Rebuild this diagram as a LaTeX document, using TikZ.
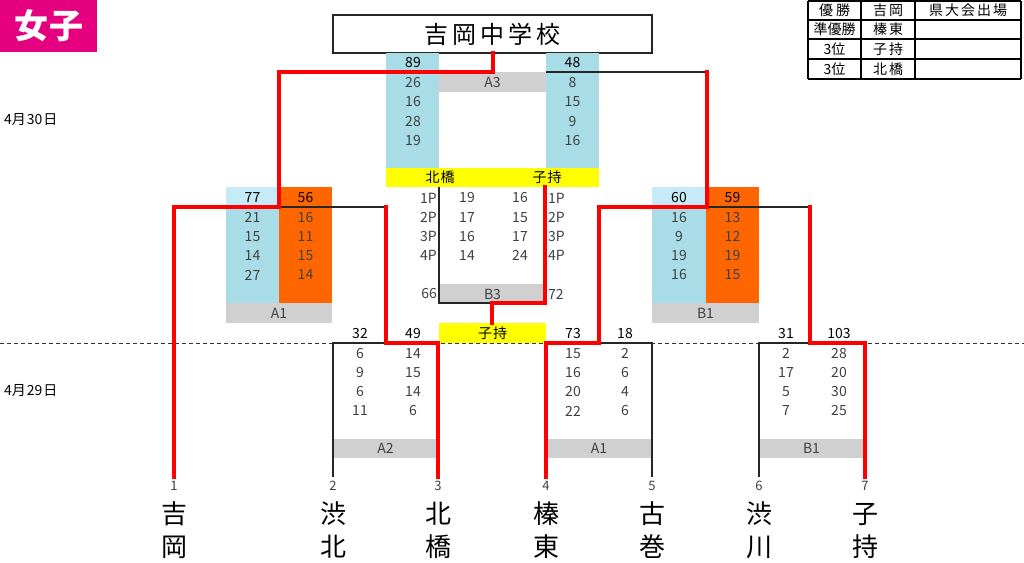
\documentclass[tikz,border=0pt]{standalone}
\usepackage{fontspec}
\setmainfont{Noto Sans CJK JP}
\definecolor{lblue}{HTML}{A8DDE8}
\definecolor{tblue}{HTML}{C5EBF9}
\definecolor{orng}{HTML}{FF6600}
\definecolor{gry}{HTML}{D0D0D0}
\definecolor{ylw}{HTML}{FFFF00}
\definecolor{rd}{HTML}{FF0000}
\definecolor{mag}{HTML}{E4007F}
\definecolor{numgray}{HTML}{404040}
\tikzset{
  num/.style={font=\fontsize{14}{14}\selectfont, text=numgray, inner sep=0pt},
  topnum/.style={num, text=black},
  team/.style={font=\fontsize{26}{26}\selectfont, text=black, inner sep=0pt},
  tno/.style={font=\fontsize{13}{13}\selectfont, text=numgray, inner sep=0pt},
  tbl/.style={font=\fontsize{14}{14}\selectfont, text=black, inner sep=0pt},
  win/.style={draw=rd, line width=4.5pt, line join=miter, line cap=rect},
  lose/.style={draw=black!85, line width=1.2pt},
}
\begin{document}
\begin{tikzpicture}[x=1pt,y=-1pt]
\useasboundingbox (0,0) rectangle (1024,562);
\fill[white] (0,0) rectangle (1024,562);
% title badge
\fill[mag] (0,0) rectangle (97,52);
\node[font=\fontsize{34}{34}\selectfont\bfseries, text=white, inner sep=0pt] (girls) at (49,26) {女\hspace{2pt}子};
% dates
\node[font=\fontsize{14}{14}\selectfont, anchor=west, inner sep=0pt] (d30) at (4,120) {4月\hspace{1pt}30\hspace{1pt}日};
\node[font=\fontsize{14}{14}\selectfont, anchor=west, inner sep=0pt] (d29) at (4,391) {4月\hspace{1pt}29\hspace{1pt}日};
% title box
\node[draw=black!85, line width=1.2pt, minimum width=319pt, minimum height=38pt, inner sep=0pt, font=\fontsize{24}{24}\selectfont] (title) at (492.5,34) {吉\hspace{4pt}岡\hspace{4pt}中\hspace{4pt}学\hspace{4pt}校};
% result table
\foreach \y in {1,20,39,59,79} \draw[line width=1.3pt] (808,\y) -- (1021,\y);
\foreach \x in {808,861,915,1021} \draw[line width=1.3pt] (\x,1) -- (\x,79);
\node[tbl] (t11) at (834.5,10.5) {優\hspace{3pt}勝};
\node[tbl] (t12) at (888,10.5) {吉\hspace{2pt}岡};
\node[tbl] (t13) at (968,10.5) {県\hspace{2pt}大\hspace{2pt}会\hspace{2pt}出\hspace{2pt}場};
\node[tbl] (t21) at (834.5,29.5) {準優勝};
\node[tbl] (t22) at (888,29.5) {榛\hspace{2pt}東};
\node[tbl] (t31) at (834.5,49) {3位};
\node[tbl] (t32) at (888,49) {子\hspace{2pt}持};
\node[tbl] (t41) at (834.5,69) {3位};
\node[tbl] (t42) at (888,69) {北\hspace{2pt}橋};
% ---- fills ----
\fill[lblue] (386,53) rectangle (439,168);
\fill[lblue] (546,53) rectangle (599,168);
\fill[gry] (439,72) rectangle (546,92);
\fill[ylw] (386,168) rectangle (599,187);
\fill[gry] (439,284) rectangle (546,303);
\fill[ylw] (439,323) rectangle (546,343);
\fill[tblue] (226,187) rectangle (279,207);
\fill[lblue] (226,207) rectangle (279,303);
\fill[orng] (279,187) rectangle (332,303);
\fill[gry] (226,303) rectangle (332,323);
\fill[tblue] (652,187) rectangle (706,207);
\fill[lblue] (652,207) rectangle (706,303);
\fill[orng] (706,187) rectangle (759,303);
\fill[gry] (652,303) rectangle (759,323);
\fill[gry] (333,439) rectangle (438,458);
\fill[gry] (546,439) rectangle (652,458);
\fill[gry] (759,439) rectangle (864,458);
% dashed day separator
\draw[black!80, line width=1pt, dash pattern=on 4pt off 3pt] (0,343) -- (1024,343);
% ---- bracket coordinates ----
\coordinate (p1) at (174,477);
\coordinate (p2) at (333,477);
\coordinate (p3) at (438,477);
\coordinate (p4) at (546,477);
\coordinate (p5) at (652,477);
\coordinate (p6) at (759,477);
\coordinate (p7) at (865,477);
\coordinate (mA2) at (386,343);
\coordinate (mA1r) at (599,343);
\coordinate (mB1r) at (810,343);
\coordinate (qA1) at (279,207);
\coordinate (qB1) at (707,207);
\coordinate (fin) at (493,72);
\coordinate (b3l) at (439,187);
\coordinate (b3r) at (545,187);
\coordinate (b3m) at (492,303);
\coordinate (b3w) at (492,323);
\coordinate (lA3) at (546,72);
% ---- losing lines ----
\draw[lose] (p2) |- (mA2);
\draw[lose] (p5) |- (mA1r);
\draw[lose] (p6) |- (mB1r);
\draw[lose] (386,207) -- (qA1);
\draw[lose] (810,207) -- (qB1);
\draw[lose] (lA3) -- (qB1 |- lA3);
\draw[lose] (b3l) |- (b3m);
% ---- winning lines ----
\draw[win] (title.south -| fin) -- (fin) -| (qA1) -| (p1);
\draw[win] (p3) |- (mA2) -- (mA2 |- qA1);
\draw[win] (p4) |- (mA1r) |- (qB1) -- (qB1 |- fin);
\draw[win] (p7) |- (mB1r) -- (mB1r |- qB1);
\draw[win] (b3r) |- (b3m) -- (b3w);
% ---- texts: A3 final ----
\node[topnum] (f89) at (413,63) {89};
\node[topnum] (f48) at (572.5,63) {48};
\foreach \v [count=\i] in {26,16,28,19} \node[num] (fl\i) at (413,{63.5+19.2*\i}) {\v};
\foreach \v [count=\i] in {8,15,9,16} \node[num] (fr\i) at (572.5,{63.5+19.2*\i}) {\v};
\node[num] (la3) at (492.5,82) {A3};
\node[tbl] (yk) at (440,177.5) {北\hspace{1pt}橋};
\node[tbl] (yr) at (547,177.5) {子\hspace{1pt}持};
% B3
\foreach \v [count=\i] in {1P,2P,3P,4P} \node[num, anchor=east] (bpl\i) at (437,{178.75+19.25*\i}) {\v};
\foreach \v [count=\i] in {19,17,16,14} \node[num] (bl\i) at (467,{178.75+19.25*\i}) {\v};
\foreach \v [count=\i] in {16,15,17,24} \node[num] (br\i) at (520,{178.75+19.25*\i}) {\v};
\foreach \v [count=\i] in {1P,2P,3P,4P} \node[num, anchor=west] (bpr\i) at (548,{178.75+19.25*\i}) {\v};
\node[num, anchor=east] (b66) at (437,294) {66};
\node[num, anchor=west] (b72) at (548,294) {72};
\node[num] (lb3) at (492.5,294) {B3};
\node[tbl] (yb) at (492.5,333) {子\hspace{1pt}持};
% A1 QF
\node[topnum] (q77) at (252.5,198) {77};
\node[topnum] (q56) at (305.5,198) {56};
\foreach \v [count=\i] in {21,15,14,27} \node[num] (qal\i) at (252.5,{198+19.25*\i}) {\v};
\foreach \v [count=\i] in {16,11,15,14} \node[num] (qar\i) at (305.5,{198+19.25*\i}) {\v};
\node[num] (lqa1) at (279,313) {A1};
% B1 QF
\node[topnum] (q60) at (679,198) {60};
\node[topnum] (q59) at (732.5,198) {59};
\foreach \v [count=\i] in {16,9,19,16} \node[num] (qbl\i) at (679,{198+19.25*\i}) {\v};
\foreach \v [count=\i] in {13,12,19,15} \node[num] (qbr\i) at (732.5,{198+19.25*\i}) {\v};
\node[num] (lqb1) at (705.5,313) {B1};
% first round A2
\node[topnum] (r32) at (360,334) {32};
\node[topnum] (r49) at (413,334) {49};
\foreach \v [count=\i] in {6,9,6,11} \node[num] (ral\i) at (360,{334+19.25*\i}) {\v};
\foreach \v [count=\i] in {14,15,14,6} \node[num] (rar\i) at (413,{334+19.25*\i}) {\v};
\node[num] (lra2) at (385.5,448.5) {A2};
% first round A1
\node[topnum] (r73) at (573,334) {73};
\node[topnum] (r18) at (625,334) {18};
\foreach \v [count=\i] in {15,16,20,22} \node[num] (rbl\i) at (573,{334+19.25*\i}) {\v};
\foreach \v [count=\i] in {2,6,4,6} \node[num] (rbr\i) at (625,{334+19.25*\i}) {\v};
\node[num] (lra1) at (599,448.5) {A1};
% first round B1
\node[topnum] (r31) at (786,334) {31};
\node[topnum] (r103) at (839,334) {103};
\foreach \v [count=\i] in {2,17,5,7} \node[num] (rcl\i) at (786,{334+19.25*\i}) {\v};
\foreach \v [count=\i] in {28,20,30,25} \node[num] (rcr\i) at (839,{334+19.25*\i}) {\v};
\node[num] (lrb1) at (811.5,448.5) {B1};
% team numbers and names
\foreach \x/\n/\a/\b in {174/1/吉/岡, 333/2/渋/北, 438/3/北/橋, 546/4/榛/東, 652/5/古/巻, 759/6/渋/川, 865/7/子/持} {
  \node[tno] (no\n) at (\x,486) {\n};
  \node[team] (na\n) at (\x,514) {\a};
  \node[team] (nb\n) at (\x,547) {\b};
}
\end{tikzpicture}
\end{document}
